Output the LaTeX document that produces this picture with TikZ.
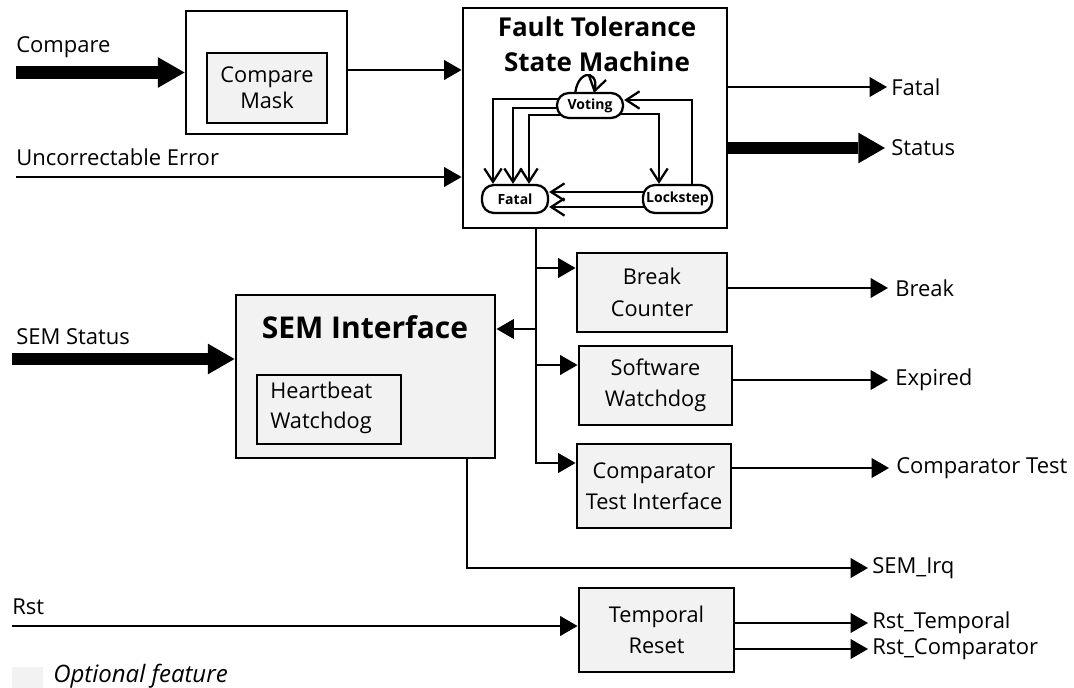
\documentclass[tikz,border=0pt]{standalone}
\usepackage{fontspec}
\setmainfont{Open Sans}
\usetikzlibrary{arrows.meta,backgrounds}
\definecolor{opt}{RGB}{242,242,242}
\tikzset{
  lbl/.style={inner sep=0pt, anchor=west, font=\fontsize{16.5}{20}\selectfont},
  box/.style={draw, line width=2.2pt, fill=opt, inner sep=0pt, align=center, font=\fontsize{16.3}{23.5}\selectfont},
  obox/.style={draw, line width=2.2pt, inner sep=0pt},
  title/.style={inner sep=0pt, align=center, font=\fontsize{19.5}{26.5}\selectfont\bfseries},
  stnode/.style={draw, line width=1.7pt, fill=white, rounded corners=9pt, inner sep=0pt, font=\fontsize{10.5}{11}\selectfont\bfseries},
  ln/.style={line width=1.9pt},
  tri/.style={-{Triangle[length=13pt,width=15pt,line width=0pt]}},
  fat/.style={line width=9.5pt, -{Triangle[length=20pt,width=23pt,line width=0pt]}},
  sm/.style={line width=1.7pt, -{Straight Barb[length=10pt,width=13pt]}},
}
\begin{document}
\begin{tikzpicture}[x=0.75pt,y=-0.75pt]
\useasboundingbox (0,0) rectangle (1074,688);

% ---- boxes
\node[obox, minimum width=120.75pt, minimum height=92.25pt] (cmpOuter) at (266.5,72.5) {};
\node[box, font=\fontsize{16.3}{19.5}\selectfont, minimum width=90pt, minimum height=52.5pt] (cmpMask) at (267,88) {Compare\\Mask};
\node[obox, minimum width=198pt, minimum height=165pt] (ft) at (595,118) {};
\node[title] (ftTitle) at (597,44.5) {Fault Tolerance\\State Machine};
\node[box, minimum width=112.5pt, minimum height=59.25pt] (brk) at (652,292.5) {Break\\Counter};
\node[box, minimum width=114.75pt, minimum height=59.25pt] (sw) at (655.5,385.5) {Software\\Watchdog};
\node[box, minimum width=115.5pt, minimum height=63pt] (cti) at (654,486) {Comparator\\Test Interface};
\node[box, minimum width=194.25pt, minimum height=122.25pt] (sem) at (365.5,376.5) {};
\node[title, font=\fontsize{22.5}{26}\selectfont\bfseries] (semTitle) at (365,327) {SEM Interface};
\node[box, minimum width=108pt, minimum height=51.75pt] (hb) at (329,409.5) {};
\node[inner sep=0pt, anchor=west, align=left, font=\fontsize{16.3}{22.5}\selectfont] (hbText) at (270,408) {Heartbeat\\Watchdog};
\node[box, minimum width=116.25pt, minimum height=63pt] (tmp) at (656.5,630) {Temporal\\Reset};

% ---- state machine
\node[stnode, minimum width=49.5pt, minimum height=18.75pt] (voting) at (590,105.5) {Voting};
\node[stnode, minimum width=49.5pt, minimum height=21pt] (fatalS) at (515,199) {Fatal};
\node[stnode, minimum width=51.75pt, minimum height=21pt] (lock) at (677.5,199) {Lockstep};

\coordinate (x493) at (493,0);
\coordinate (x513) at (513,0);
\coordinate (x529) at (529,0);
\coordinate (x659) at (659,0);
\coordinate (x692) at (692,0);
\coordinate (loopA) at (575,105);
\coordinate (loopB) at (594,93);

\begin{pgfonlayer}{background}
\draw[sm] (voting.center |- 0,99) -| (fatalS.north -| x493);
\draw[sm] (voting.center |- 0,108) -| (fatalS.north -| x513);
\draw[sm] (voting.center |- 0,115) -| (fatalS.north -| x529);
\draw[sm] (voting.center |- 0,114) -| (lock.north -| x659);
\draw[sm] (lock.center -| x692) |- (voting.east |- 0,100);
\draw[sm] (lock.center |- 0,192) -- (fatalS.east |- 0,192);
\draw[sm] (lock.center |- 0,207) -- (fatalS.east |- 0,207);
\draw[sm] (loopA) .. controls (572,68) and (600,68) .. (loopB);
\end{pgfonlayer}

% ---- left inputs
\node[lbl] (tCompare) at (16,47) {Compare};
\coordinate (inCmp) at (16,72.5);
\draw[fat] (inCmp) -- (cmpOuter.west);
\draw[ln,tri] (cmpOuter.east |- 0,70) -- (ft.west |- 0,70);

\node[lbl] (tUncorr) at (16,157) {Uncorrectable Error};
\coordinate (inUnc) at (16,177);
\draw[ln,tri] (inUnc) -- (ft.west |- inUnc);

\node[lbl] (tSemStatus) at (16,337) {SEM Status};
\coordinate (inSem) at (12,359);
\draw[fat] (inSem) -- (sem.west |- inSem);

\node[lbl] (tRst) at (12,607) {Rst};
\coordinate (inRst) at (12,626);
\draw[ln,tri] (inRst) -- (tmp.west |- inRst);

% ---- FT outputs
\coordinate (oFatal) at (887,87);
\node[lbl] (tFatal) at (891,87) {Fatal};
\draw[ln,tri] (ft.east |- oFatal) -- (oFatal);

\coordinate (oStatus) at (885,148);
\node[lbl] (tStatus) at (891,148) {Status};
\draw[fat] (ft.east |- oStatus) -- (oStatus);

% ---- bus
\coordinate (bus) at (536,0);
\draw[ln,tri] (ft.south -| bus) |- (cti.west |- 0,463);
\draw[ln,tri] (bus |- 0,268) -- (brk.west |- 0,268);
\draw[ln,tri] (bus |- 0,365) -- (sw.west |- 0,365);
\draw[ln,tri] (bus |- 0,329) -- (sem.east |- 0,329);

% ---- right outputs
\coordinate (oBreak) at (888,288);
\node[lbl] (tBreak) at (895,288) {Break};
\draw[ln,tri] (brk.east |- oBreak) -- (oBreak);

\coordinate (oExp) at (888,380);
\node[lbl] (tExp) at (895,380) {Expired};
\draw[ln,tri] (sw.east |- oExp) -- (oExp);

\coordinate (oCT) at (889,468);
\node[lbl] (tCT) at (896,468) {Comparator Test};
\draw[ln,tri] (cti.east |- oCT) -- (oCT);

\coordinate (x467) at (467,0);
\coordinate (oIrq) at (868,568);
\node[lbl] (tIrq) at (872,568) {SEM\_Irq};
\draw[ln,tri] (sem.south -| x467) |- (oIrq);

\coordinate (oRT) at (868,623);
\node[lbl] (tRT) at (872,623) {Rst\_Temporal};
\draw[ln,tri] (tmp.east |- oRT) -- (oRT);

\coordinate (oRC) at (868,649);
\node[lbl] (tRC) at (872,649) {Rst\_Comparator};
\draw[ln,tri] (tmp.east |- oRC) -- (oRC);

% ---- legend
\node[fill=opt, inner sep=0pt, minimum width=23.25pt, minimum height=15.75pt, anchor=north west] (legSq) at (12,667) {};
\node[lbl, font=\fontsize{18}{20}\selectfont\itshape] (legText) at (53,676) {Optional feature};
\end{tikzpicture}
\end{document}
